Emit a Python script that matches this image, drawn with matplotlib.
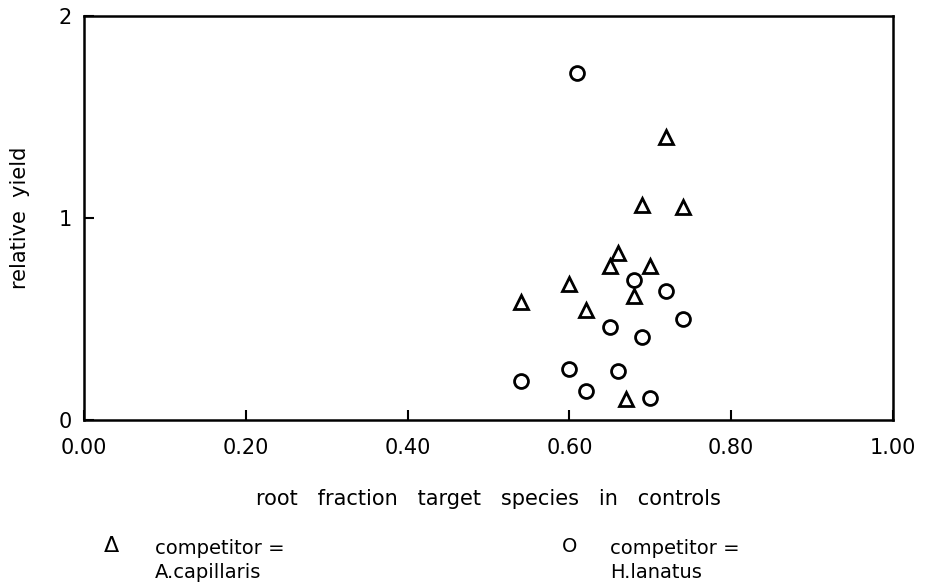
import matplotlib
matplotlib.use("Agg")
import matplotlib.pyplot as plt

# Data
acap_x = [0.54, 0.60, 0.62, 0.65, 0.66, 0.67, 0.68, 0.69, 0.70, 0.72, 0.74]
acap_y = [0.584, 0.673, 0.545, 0.762, 0.825, 0.105, 0.614, 1.064, 0.762, 1.403, 1.056]

hlan_x = [0.54, 0.60, 0.61, 0.62, 0.65, 0.66, 0.68, 0.69, 0.70, 0.72, 0.74]
hlan_y = [0.195, 0.251, 1.716, 0.145, 0.459, 0.241, 0.693, 0.412, 0.109, 0.640, 0.501]

x_ticks = [0.0, 0.2, 0.4, 0.6, 0.8, 1.0]
x_ticklabels = ["0.00", "0.20", "0.40", "0.60", "0.80", "1.00"]
y_ticks = [0, 1, 2]
y_ticklabels = ["0", "1", "2"]

plt.rcParams['font.family'] = ['DejaVu Sans']

fig = plt.figure(figsize=(9.25, 5.87), dpi=100)
ax = fig.add_axes([84/925, 1 - 420/587, (893-84)/925, (420-16)/587])

ax.plot(acap_x, acap_y, linestyle='none', marker='^', markersize=10,
        markerfacecolor='white', markeredgecolor='black', markeredgewidth=2.0,
        clip_on=False)
ax.plot(hlan_x, hlan_y, linestyle='none', marker='o', markersize=10,
        markerfacecolor='white', markeredgecolor='black', markeredgewidth=2.0,
        clip_on=False)

ax.set_xlim(0, 1)
ax.set_ylim(0, 2)
ax.set_xticks(x_ticks)
ax.set_xticklabels(x_ticklabels)
ax.set_yticks(y_ticks)
ax.set_yticklabels(y_ticklabels)
ax.tick_params(direction='in', length=7, width=1.5, labelsize=15, pad=13)
ax.tick_params(axis='y', pad=9)
for s in ax.spines.values():
    s.set_linewidth(1.8)

ax.set_xlabel("root   fraction   target   species   in   controls", fontsize=15, labelpad=22)
ax.set_ylabel("relative  yield", fontsize=15, labelpad=20)

# Legend (text-style, below the chart)
fig.text(111/925, 1 - 546/587, "\u0394", fontsize=16, ha='center', va='center')
fig.text(155/925, 1 - 548/587, "competitor =", fontsize=14, ha='left', va='center')
fig.text(155/925, 1 - 572/587, "A.capillaris", fontsize=14, ha='left', va='center')
fig.text(570/925, 1 - 546/587, "O", fontsize=14, ha='center', va='center')
fig.text(610/925, 1 - 548/587, "competitor =", fontsize=14, ha='left', va='center')
fig.text(610/925, 1 - 572/587, "H.lanatus", fontsize=14, ha='left', va='center')

fig.savefig("out.png", dpi=100)
